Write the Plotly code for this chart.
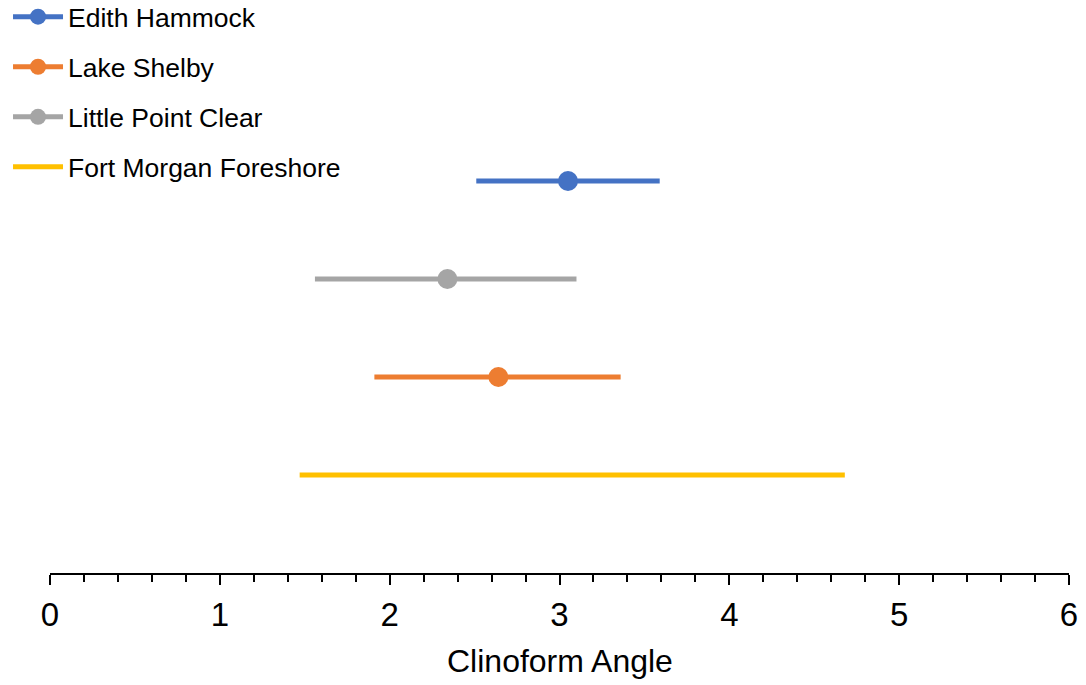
import plotly.graph_objects as go

sites = ["Edith Hammock", "Lake Shelby", "Little Point Clear", "Fort Morgan Foreshore"]
means = [3.05, 2.64, 2.34, 2.81]
lows = [2.51, 1.91, 1.56, 1.47]
highs = [3.59, 3.36, 3.10, 4.68]
colors = ["#4472C4", "#ED7D31", "#A5A5A5", "#FFC000"]
show_marker = [True, True, True, False]
# vertical order of rows, bottom to top
row_order = ["Fort Morgan Foreshore", "Lake Shelby", "Little Point Clear", "Edith Hammock"]
x_title = "Clinoform Angle"

fig = go.Figure()
for i, s in enumerate(sites):
    mc = [colors[i], "rgba(0,0,0,0)", "rgba(0,0,0,0)"]
    fig.add_trace(go.Scatter(
        x=[means[i], lows[i], highs[i]],
        y=[s, s, s],
        mode="lines+markers" if show_marker[i] else "lines",
        name=s,
        legendgroup=s,
        line=dict(color=colors[i], width=5),
        marker=dict(size=20, color=mc, line=dict(width=0)),
        hoverinfo="x+name",
    ))

font_family = "Liberation Sans, Arial, sans-serif"
fig.update_layout(
    width=1078, height=677,
    margin=dict(l=42, r=17, t=75, b=112, autoexpand=False),
    plot_bgcolor="white", paper_bgcolor="white",
    font=dict(family=font_family, color="black"),
    showlegend=True,
    legend=dict(
        x=-0.0412, y=1.1837, xref="paper", yref="paper",
        xanchor="left", yanchor="top",
        font=dict(size=26.5, family=font_family, color="black"),
        tracegroupgap=12.6,
        itemwidth=50,
        bgcolor="rgba(0,0,0,0)",
    ),
    xaxis=dict(
        range=[0, 6], dtick=1, tick0=0,
        showgrid=False, zeroline=False,
        showline=True, linecolor="black", linewidth=2,
        ticks="outside", ticklen=10, tickwidth=2, tickcolor="black",
        tickfont=dict(size=33, family=font_family, color="black"),
        ticklabelstandoff=1,
        minor=dict(dtick=0.2, ticks="outside", ticklen=7, tickwidth=2, tickcolor="black", showgrid=False),
        fixedrange=True,
    ),
    yaxis=dict(
        type="category", categoryorder="array", categoryarray=row_order,
        range=[-1, 4],
        showgrid=False, zeroline=False, showline=False,
        showticklabels=False, ticks="",
        fixedrange=True,
    ),
    annotations=[dict(
        text=x_title, x=0.5, y=-0.1796, xref="paper", yref="paper",
        xanchor="center", yanchor="middle", showarrow=False,
        font=dict(size=32, family=font_family, color="black"),
    )],
)

fig.write_html("out.html")
